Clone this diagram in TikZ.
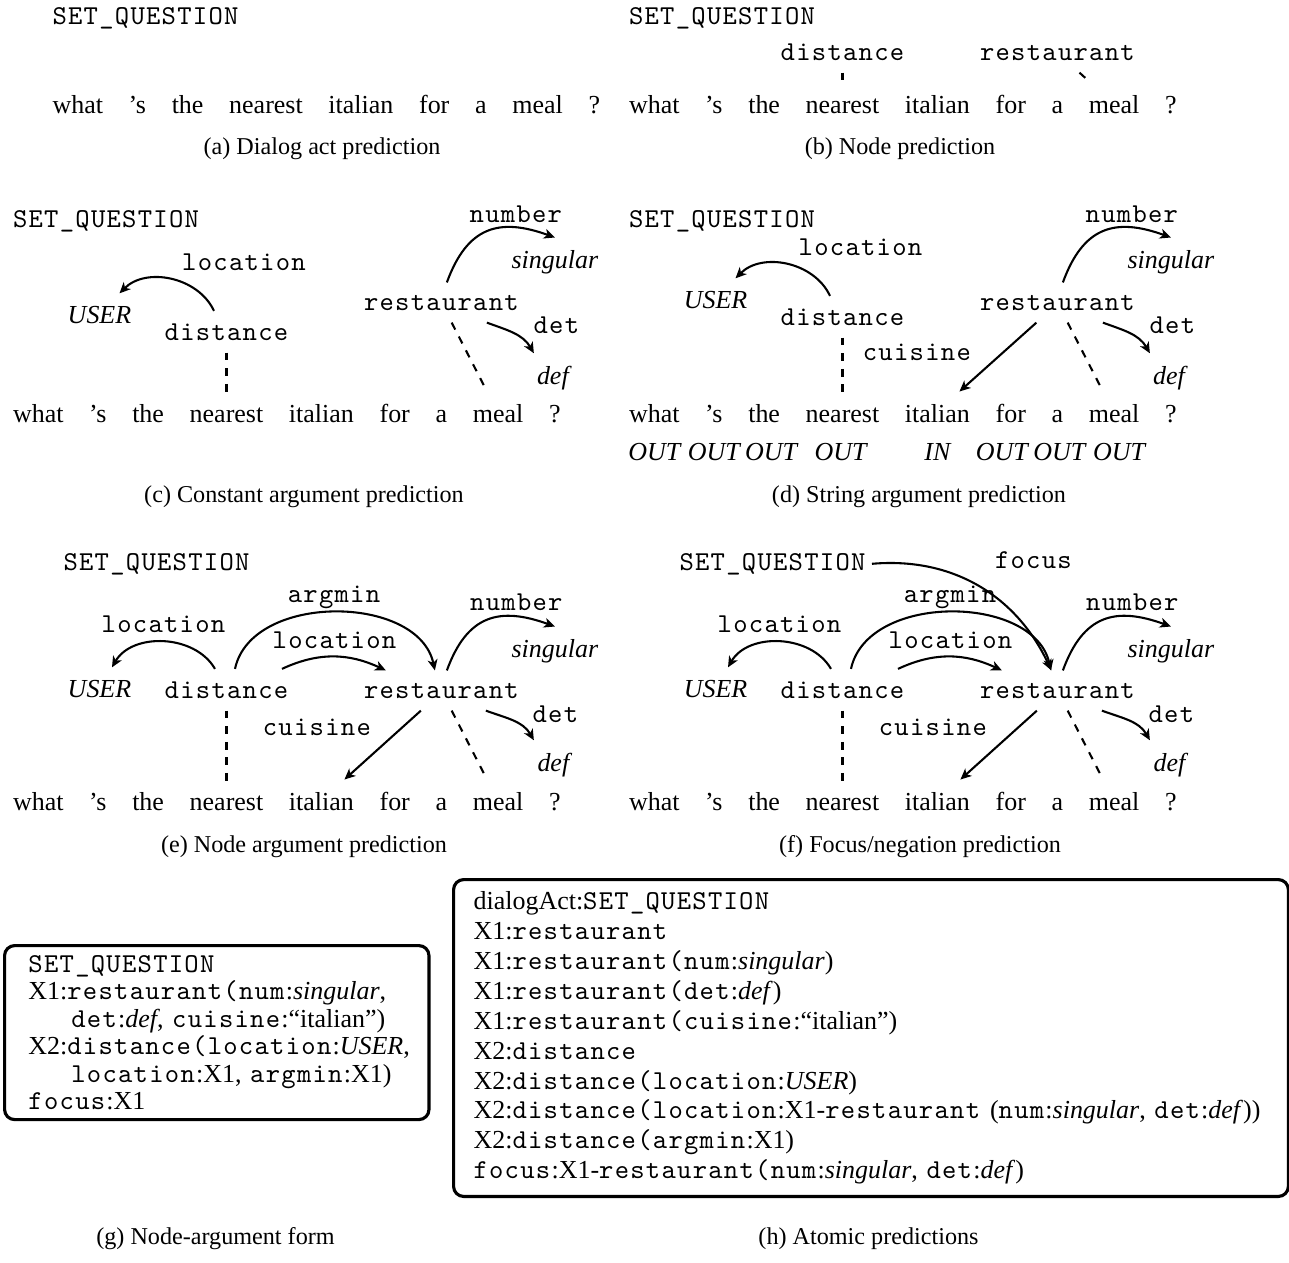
\documentclass[tikz,border=0pt]{standalone}
\usepackage{fontspec}
\setmainfont{Liberation Serif}
\setmonofont{lmmono10-regular.otf}[Scale=1.05,LetterSpace=4.7]
\usepackage{tikz}
\usetikzlibrary{calc,arrows.meta,positioning}

\tikzset{
  word/.style={inner xsep=0pt,inner ysep=4.6pt},
  pred/.style={inner xsep=0pt,inner ysep=4.6pt,font=\ttfamily},
  const/.style={inner xsep=0pt,inner ysep=4.6pt,font=\itshape},
  rel/.style={inner sep=0pt,anchor=base,font=\ttfamily},
  tag/.style={inner sep=0pt,anchor=base,font=\itshape},
  relarrow/.style={thick,-{Stealth[length=4.2pt,width=3.8pt,inset=1.2pt]}},
  align line/.style={thick,dashed},
  caption/.style={inner sep=0pt,anchor=base,font=\fontsize{9.3}{11}\selectfont},
  formbox/.style={draw,very thick,rounded corners=3.9pt,anchor=north west,align=left}
}

\begin{document}
\begin{tikzpicture}[x=0.385pt,y=0.385pt,node distance=9.5pt]
  \useasboundingbox (0,0) rectangle (1289,-1262);

  % \sentence{<id>}{<pos>}
  \DeclareDocumentCommand \sentence { m m }{%
    \path #2 node[word,anchor=base west] (#1-what) {what};
    \node[word,base right=of #1-what] (#1-s) {'s};
    \node[word,base right=of #1-s] (#1-the) {the};
    \node[word,base right=of #1-the] (#1-nearest) {nearest};
    \node[word,base right=of #1-nearest] (#1-italian) {italian};
    \node[word,base right=of #1-italian] (#1-for) {for};
    \node[word,base right=of #1-for] (#1-a) {a};
    \node[word,base right=of #1-a] (#1-meal) {meal};
    \node[word,base right=of #1-meal] (#1-q) {?};
  }

  % \nodeargs{<id>}
  \DeclareDocumentCommand \nodeargs { m }{%
    \path (#1-what.base west) +(50.5,240) node[pred,anchor=base west] (#1-setq) {SET\_QUESTION};
    \path (#1-nearest.base) +(0,112) node[pred,anchor=base] (#1-distance) {distance};
    \path (#1-distance.base) +(-127,1) node[const,anchor=base] (#1-user) {USER};
    \path (#1-a.base) +(0,112) node[pred,anchor=base] (#1-restaurant) {restaurant};
    \path (#1-restaurant.base) +(113.5,41) node[const,anchor=base] (#1-singular) {singular};
    \path (#1-restaurant.base) +(112,-73) node[const,anchor=base] (#1-def) {def};
    \draw[relarrow] ($(#1-distance.north)+(-11.5,0)$) to[out=120,in=60] ($(#1-user.north)+(12.5,0)$);
    \draw[relarrow] ($(#1-distance.north)+(8.5,0)$) to[out=78,in=102] ($(#1-restaurant.north)+(-6.5,0)$);
    \draw[relarrow] ($(#1-distance.north)+(55.5,0)$) to[out=25,in=155] ($(#1-restaurant.north)+(-55.5,0)$);
    \draw[relarrow] ($(#1-restaurant.north)+(5.5,0)$) to[out=70,in=160,looseness=1.3] (#1-singular.north);
    \draw[relarrow] ($(#1-restaurant.south)+(44.5,0)$) to[out=-20,in=120] ($(#1-def.north)+(-19.5,0)$);
    \draw[relarrow] ($(#1-restaurant.south)+(-20.5,0)$) -- ($(#1-italian.north)+(23,0)$);
    \draw[align line] (#1-distance) -- (#1-nearest);
    \draw[align line] (#1-restaurant) -- (#1-meal);
    \path (#1-distance.base) +(-63,66) node[rel] (#1-loc-l) {location};
    \path (#1-distance.base) +(107.5,96) node[rel] (#1-argmin-l) {argmin};
    \path (#1-distance.base) +(108,50) node[rel] (#1-loc2-l) {location};
    \path (#1-restaurant.base) +(-124.5,-37) node[rel] (#1-cui-l) {cuisine};
    \path (#1-restaurant.base) +(75,88) node[rel] (#1-num-l) {number};
    \path (#1-restaurant.base) +(114,-24) node[rel] (#1-det-l) {det};
  }

  % (a) dialog act
  \sentence{a}{(52,-113)}
  \path (a-what.base west) +(0,89) node[pred,anchor=base west] (a-setq) {SET\_QUESTION};
  \node[caption] (a-cap) at (322,-154) {(a) Dialog act prediction};

  % (b) nodes
  \sentence{b}{(628.5,-113)}
  \path (b-what.base west) +(0,89) node[pred,anchor=base west] (b-setq) {SET\_QUESTION};
  \path (b-nearest.base) +(0,53) node[pred,anchor=base] (b-distance) {distance};
  \path (b-a.base) +(0,53) node[pred,anchor=base] (b-restaurant) {restaurant};
  \draw[align line] (b-distance) -- (b-nearest);
  \draw[align line] (b-restaurant) -- (b-meal);
  \node[caption] (b-cap) at (900,-154) {(b) Node prediction};

  % (c) constant arguments
  \sentence{c}{(12.5,-422)}
  \path (c-what.base west) +(0,195) node[pred,anchor=base west] (c-setq) {SET\_QUESTION};
  \path (c-nearest.base) +(0,82) node[pred,anchor=base] (c-distance) {distance};
  \path (c-distance.base) +(-127,17) node[const,anchor=base] (c-user) {USER};
  \path (c-a.base) +(0,112) node[pred,anchor=base] (c-restaurant) {restaurant};
  \path (c-restaurant.base) +(113.5,42) node[const,anchor=base] (c-singular) {singular};
  \path (c-restaurant.base) +(111.5,-74) node[const,anchor=base] (c-def) {def};
  \draw[relarrow] ($(c-distance.north)+(-12.5,0)$) to[out=115,in=45] ($(c-user.north)+(20,0)$);
  \draw[relarrow] ($(c-restaurant.north)+(5.5,0)$) to[out=70,in=160,looseness=1.3] (c-singular.north);
  \draw[relarrow] ($(c-restaurant.south)+(45.5,0)$) to[out=-20,in=120] ($(c-def.north)+(-19,0)$);
  \draw[align line] (c-distance) -- (c-nearest);
  \draw[align line] (c-restaurant) -- (c-meal);
  \path (c-distance.base) +(17.5,70) node[rel] (c-loc-l) {location};
  \path (c-restaurant.base) +(74.5,88) node[rel] (c-num-l) {number};
  \path (c-restaurant.base) +(115,-23) node[rel] (c-det-l) {det};
  \node[caption] (c-cap) at (304,-502) {(c) Constant argument prediction};

  % (d) string arguments
  \sentence{d}{(628.5,-422)}
  \path (d-what.base west) +(0,195) node[pred,anchor=base west] (d-setq) {SET\_QUESTION};
  \path (d-nearest.base) +(0,97) node[pred,anchor=base] (d-distance) {distance};
  \path (d-distance.base) +(-127,17) node[const,anchor=base] (d-user) {USER};
  \path (d-a.base) +(0,112) node[pred,anchor=base] (d-restaurant) {restaurant};
  \path (d-restaurant.base) +(113.5,42) node[const,anchor=base] (d-singular) {singular};
  \path (d-restaurant.base) +(111.5,-74) node[const,anchor=base] (d-def) {def};
  \draw[relarrow] ($(d-distance.north)+(-12.5,0)$) to[out=115,in=45] ($(d-user.north)+(20,0)$);
  \draw[relarrow] ($(d-restaurant.north)+(5.5,0)$) to[out=70,in=160,looseness=1.3] (d-singular.north);
  \draw[relarrow] ($(d-restaurant.south)+(45.5,0)$) to[out=-20,in=120] ($(d-def.north)+(-19,0)$);
  \draw[relarrow] ($(d-restaurant.south)+(-21,0)$) -- ($(d-italian.north)+(22,0)$);
  \draw[align line] (d-distance) -- (d-nearest);
  \draw[align line] (d-restaurant) -- (d-meal);
  \path (d-distance.base) +(18,70) node[rel] (d-loc-l) {location};
  \path (d-restaurant.base) +(-140.5,-50) node[rel] (d-cui-l) {cuisine};
  \path (d-restaurant.base) +(74.5,88) node[rel] (d-num-l) {number};
  \path (d-restaurant.base) +(115,-23) node[rel] (d-det-l) {det};
  \path (d-what.base) +(0,-38) node[tag] (d-tag-what) {OUT};
  \path (d-s.base) +(0,-38) node[tag] (d-tag-s) {OUT};
  \path (d-the.base) +(7,-38) node[tag] (d-tag-the) {OUT};
  \path (d-nearest.base) +(-2,-38) node[tag] (d-tag-nearest) {OUT};
  \path (d-italian.base) +(0,-38) node[tag] (d-tag-italian) {IN};
  \path (d-for.base) +(-9,-38) node[tag] (d-tag-for) {OUT};
  \path (d-a.base) +(2,-38) node[tag] (d-tag-a) {OUT};
  \path (d-meal.base) +(5,-38) node[tag] (d-tag-meal) {OUT};
  \node[caption] (d-cap) at (919,-502) {(d) String argument prediction};

  % (e) node arguments
  \sentence{e}{(12.5,-810)}
  \nodeargs{e}
  \node[caption] (e-cap) at (304,-852) {(e) Node argument prediction};

  % (f) focus
  \sentence{f}{(628.5,-810)}
  \nodeargs{f}
  \draw[relarrow] ($(f-setq.east)+(6,0)$) to[out=5,in=115] ($(f-restaurant.north)+(-6,0)$);
  \path (f-restaurant.base) +(-24,130) node[rel] (f-focus-l) {focus};
  \node[caption] (f-cap) at (920,-852) {(f) Focus/negation prediction};

  % (g) node-argument form
  \path (3,-944) node[formbox,text width=145pt,inner xsep=9.2pt,minimum height=67pt,font=\fontsize{10}{10.6}\selectfont] (g-box) {%
    \texttt{SET\_QUESTION}\\
    X1:\texttt{restaurant(num}:\textit{singular},\\
    \hspace*{16.5pt}\texttt{det}:\textit{def}, \texttt{cuisine}:``italian'')\\
    X2:\texttt{distance(location}:\textit{USER},\\
    \hspace*{16.5pt}\texttt{location}:X1, \texttt{argmin}:X1)\\
    \texttt{focus}:X1};
  \node[caption] (g-cap) at (215.5,-1244) {(g) Node-argument form};

  % (h) atomic predictions
  \path (452,-878) node[formbox,text width=306pt,inner xsep=7.7pt,minimum height=122pt,font=\fontsize{10}{11.5}\selectfont] (h-box) {%
    dialogAct:\texttt{SET\_QUESTION}\\
    X1:\texttt{restaurant}\\
    X1:\texttt{restaurant(num}:\textit{singular})\\
    X1:\texttt{restaurant(det}:\textit{def})\\
    X1:\texttt{restaurant(cuisine}:``italian'')\\
    X2:\texttt{distance}\\
    X2:\texttt{distance(location}:\textit{USER})\\
    X2:\texttt{distance(location}:X1-\texttt{restaurant} (\texttt{num}:\textit{singular}, \texttt{det}:\textit{def}))\\
    X2:\texttt{distance(argmin}:X1)\\
    \texttt{focus}:X1-\texttt{restaurant(num}:\textit{singular}, \texttt{det}:\textit{def})};
  \node[caption] (h-cap) at (868.5,-1244) {(h) Atomic predictions};

\end{tikzpicture}
\end{document}
